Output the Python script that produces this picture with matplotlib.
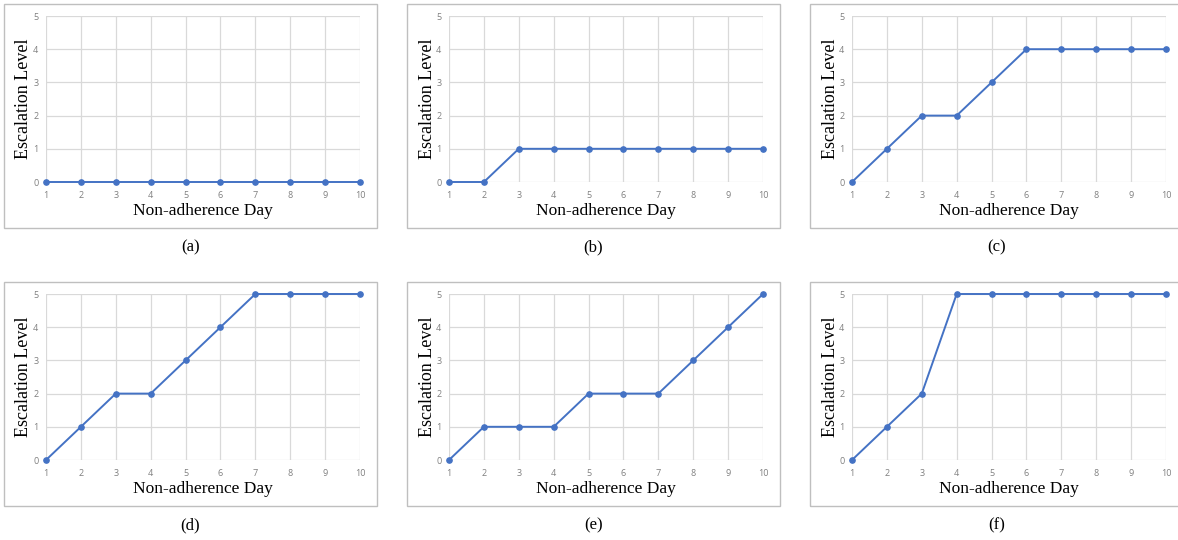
import matplotlib.pyplot as plt
from matplotlib.patches import Rectangle

days = [1, 2, 3, 4, 5, 6, 7, 8, 9, 10]
level_a = [0, 0, 0, 0, 0, 0, 0, 0, 0, 0]
level_b = [0, 0, 1, 1, 1, 1, 1, 1, 1, 1]
level_c = [0, 1, 2, 2, 3, 4, 4, 4, 4, 4]
level_d = [0, 1, 2, 2, 3, 4, 5, 5, 5, 5]
level_e = [0, 1, 1, 1, 2, 2, 2, 3, 4, 5]
level_f = [0, 1, 2, 5, 5, 5, 5, 5, 5, 5]
captions = ["(a)", "(b)", "(c)", "(d)", "(e)", "(f)"]
series = [level_a, level_b, level_c, level_d, level_e, level_f]

W, H = 1178, 540
fig = plt.figure(figsize=(W / 100, H / 100), dpi=100)

box_x = [4, 407, 810]
box_y = [4, 282]
box_w, box_h = 373, 224

for i, vals in enumerate(series):
    row, col = divmod(i, 3)
    bx, by = box_x[col], box_y[row]
    # chart area border
    fig.patches.append(Rectangle((bx / W, 1 - (by + box_h) / H), box_w / W, box_h / H,
                                 transform=fig.transFigure, fill=False,
                                 edgecolor="#bfbfbf", linewidth=1))
    # plot area
    px0, px1 = bx + 42, bx + 356
    py0, py1 = by + 12, by + 178
    pw, ph = px1 - px0, py1 - py0
    ax = fig.add_axes([px0 / W, 1 - py1 / H, pw / W, ph / H])
    ax.plot(days, vals, color="#4472c4", linewidth=1.4, marker="o", markersize=3.8,
            clip_on=False, zorder=3)
    ax.set_xlim(1, 10)
    ax.set_ylim(0, 5)
    ax.set_xticks(days)
    ax.set_yticks(range(6))
    ax.grid(True, color="#d9d9d9", linewidth=0.9)
    for s in ax.spines.values():
        s.set_visible(False)
    ax.tick_params(axis="x", length=0, labelsize=6.5, labelcolor="#7f7f7f", pad=6.5)
    ax.tick_params(axis="y", length=0, labelsize=6.5, labelcolor="#7f7f7f", pad=5.5)
    for t in ax.get_xticklabels() + ax.get_yticklabels():
        t.set_family("Open Sans")
    ax.set_xlabel("Non-adherence Day", family="Liberation Serif", fontsize=12.5, va="center")
    ax.set_ylabel("Escalation Level", family="Liberation Serif", fontsize=13, va="center")
    ax.xaxis.set_label_coords(0.5, -29 / ph)
    ax.yaxis.set_label_coords(-22 / pw, 0.5)
    fig.text((bx + box_w / 2) / W, 1 - (by + 243) / H, captions[i],
             family="Liberation Serif", fontsize=12, ha="center", va="center")

fig.savefig("out.png", dpi=100)
